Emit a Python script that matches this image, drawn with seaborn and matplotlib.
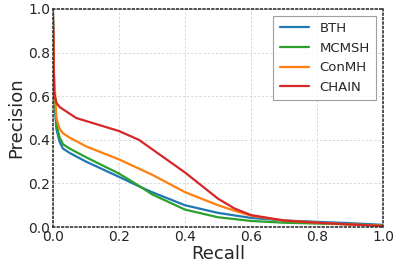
import numpy as np
import pandas as pd
import matplotlib
matplotlib.use("Agg")
import matplotlib.pyplot as plt
import seaborn as sns

# precision-recall curves
bth_recall = [0.0, 0.003, 0.01, 0.02, 0.03, 0.05, 0.1, 0.2, 0.27, 0.3, 0.4, 0.5, 0.6, 0.7, 0.8, 0.9, 1.0]
bth_prec = [0.95, 0.6, 0.45, 0.39, 0.36, 0.34, 0.30, 0.23, 0.18, 0.16, 0.10, 0.065, 0.042, 0.03, 0.024, 0.018, 0.01]

mcmsh_recall = [0.0, 0.003, 0.01, 0.02, 0.03, 0.05, 0.1, 0.2, 0.27, 0.3, 0.4, 0.5, 0.6, 0.7, 0.8, 0.9, 1.0]
mcmsh_prec = [0.99, 0.65, 0.47, 0.41, 0.38, 0.36, 0.32, 0.245, 0.18, 0.15, 0.08, 0.045, 0.028, 0.02, 0.016, 0.012, 0.008]

conmh_recall = [0.0, 0.003, 0.01, 0.02, 0.03, 0.05, 0.1, 0.2, 0.3, 0.4, 0.45, 0.5, 0.55, 0.6, 0.7, 0.8, 0.9, 1.0]
conmh_prec = [0.92, 0.7, 0.50, 0.45, 0.43, 0.41, 0.37, 0.31, 0.24, 0.16, 0.13, 0.10, 0.075, 0.052, 0.03, 0.02, 0.012, 0.006]

chain_recall = [0.0, 0.003, 0.01, 0.02, 0.07, 0.2, 0.26, 0.4, 0.45, 0.5, 0.55, 0.6, 0.7, 0.8, 0.9, 1.0]
chain_prec = [0.97, 0.62, 0.57, 0.55, 0.50, 0.44, 0.40, 0.25, 0.19, 0.13, 0.085, 0.055, 0.03, 0.02, 0.012, 0.005]

methods = ["BTH", "MCMSH", "ConMH", "CHAIN"]
colors = ["#1f77b4", "#2ca02c", "#ff7f0e", "#d62728"]

frames = []
for name, r, p in zip(methods,
                      [bth_recall, mcmsh_recall, conmh_recall, chain_recall],
                      [bth_prec, mcmsh_prec, conmh_prec, chain_prec]):
    frames.append(pd.DataFrame({"Recall": r, "Precision": p, "Method": name}))
df = pd.concat(frames, ignore_index=True)

sns.set_theme(style="white")
plt.rcParams["font.family"] = ["DejaVu Sans"]

fig = plt.figure(figsize=(3.99, 2.70), dpi=100)
ax = fig.add_axes([0.133, 0.159, 0.827, 0.808])

sns.lineplot(data=df, x="Recall", y="Precision", hue="Method", hue_order=methods,
             palette=colors, linewidth=1.6, sort=False, estimator=None, ax=ax)

ax.set_xlim(0, 1)
ax.set_ylim(0, 1)
ax.set_xticks(np.arange(0, 1.01, 0.2))
ax.set_yticks(np.arange(0, 1.01, 0.2))
ax.grid(True, linestyle=(0, (3, 2)), color="#d4d4d4", linewidth=0.6)
for s in ax.spines.values():
    s.set_linestyle(":")
    s.set_color("#333333")
    s.set_linewidth(1.2)
ax.tick_params(labelsize=10, direction="in", length=3, pad=2)
ax.set_xlabel("Recall", fontsize=13, labelpad=1)
ax.set_ylabel("Precision", fontsize=13, labelpad=2)

leg = ax.legend(loc="upper right", fontsize=9.5, frameon=True, fancybox=False,
                edgecolor="#888888", handlelength=2.2, borderpad=0.5, labelspacing=0.5)
leg.get_frame().set_linewidth(0.8)

fig.savefig("out.png", dpi=100)
